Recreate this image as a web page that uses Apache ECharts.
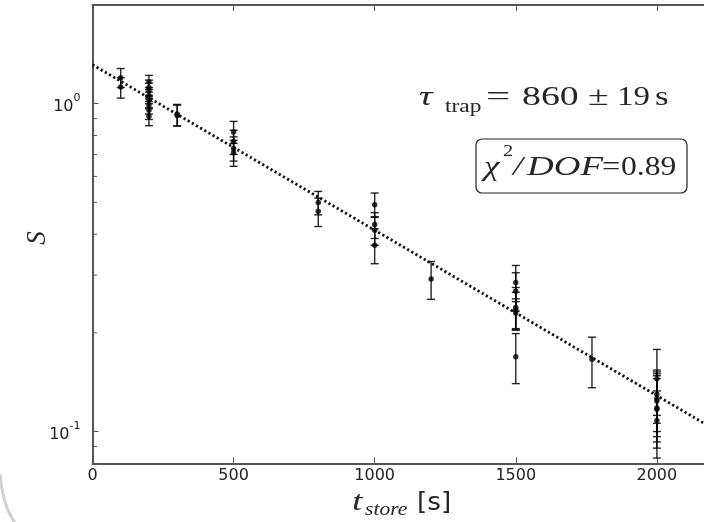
<!DOCTYPE html>
<html><head><meta charset="utf-8">
<script src="https://cdn.jsdelivr.net/npm/echarts@6/dist/echarts.min.js"></script>
<style>html,body{margin:0;padding:0;background:#fff}#c{width:704px;height:522px}</style>
</head><body><div id="c"></div>
<script>
// storage time (s)
const storeTimes = [100,100, 200,200,200,200,200,200,200,200, 300,300, 500,500,500,500, 800,800,
  1000,1000,1000,1000, 1200, 1500,1500,1500,1500,1500,1500, 1770, 2000,2000,2000,2000,2000,2000,2000];
// normalized signal S
const signal = [1.20,1.124, 1.165,1.12,1.095,1.06,1.025,0.99,0.955,0.915, 0.93,0.92, 0.82,0.765,0.73,0.71, 0.50,0.47,
  0.492,0.428,0.411,0.370, 0.292, 0.285,0.268,0.239,0.235,0.230,0.169, 0.166, 0.145,0.130,0.126,0.124,0.118,0.117,0.108];
// lower end of error bar
const errLow = [1.12,1.04, 1.105,1.06,1.035,1.0,0.965,0.93,0.895,0.857, 0.855,0.855, 0.757,0.70,0.668,0.644, 0.458,0.422,
  0.450,0.388,0.370,0.325, 0.253, 0.249,0.233,0.204,0.204,0.206,0.140, 0.136, 0.112,0.106,0.100,0.0965,0.093,0.089,0.083];
// upper end of error bar
const errHigh = [1.28,1.20, 1.22,1.18,1.155,1.12,1.085,1.05,1.015,0.973, 0.995,0.99, 0.883,0.83,0.792,0.773, 0.540,0.515,
  0.534,0.465,0.452,0.415, 0.330, 0.321,0.305,0.275,0.266,0.254,0.199, 0.194, 0.178,0.154,0.152,0.150,0.148,0.145,0.133];
// exponential fit (tau = 860 s), endpoints
const fitTimes = [0, 2200];
const fitValues = [1.315, 0.102];
const xTickValues = [0, 500, 1000, 1500, 2000];
const yMinorTicks = [0.09, 0.2, 0.3, 0.4, 0.5, 0.6, 0.7, 0.8, 0.9];

const points = storeTimes.map((t, i) => [t, signal[i], errLow[i], errHigh[i]]);
const fitData = fitTimes.map((t, i) => [t, fitValues[i]]);

const chart = echarts.init(document.getElementById('c'), null, {renderer: 'canvas'});
const axisGray = '#555';
const serif = '"Liberation Serif", "DejaVu Serif", serif';
const sans = '"DejaVu Sans", sans-serif';
const ink = '#262626';

function txt(x, y, text, font, sx) {
  return {type: 'text', x: x, y: y, scaleX: sx || 1, style: {text: text, font: font, fill: ink, verticalAlign: 'middle'}};
}

chart.setOption({
  animation: false,
  backgroundColor: '#fff',
  grid: {left: 92.5, top: 5, right: 0, bottom: 58.7, containLabel: false},
  xAxis: [{
    type: 'value', min: 0, max: 2167, interval: 500, position: 'bottom',
    axisLine: {show: true, lineStyle: {color: axisGray, width: 2}},
    axisTick: {show: true, inside: true, length: 6, lineStyle: {color: axisGray, width: 1}},
    axisLabel: {show: true, margin: 5, color: '#222', fontSize: 16, fontFamily: sans, showMaxLabel: false,
      formatter: v => xTickValues.indexOf(v) >= 0 ? String(v) : ''},
    splitLine: {show: false}
  }, {
    type: 'value', min: 0, max: 2167, interval: 500, position: 'top',
    axisLine: {show: true, lineStyle: {color: axisGray, width: 2}},
    axisTick: {show: true, inside: true, length: 6, lineStyle: {color: axisGray, width: 1}},
    axisLabel: {show: false}, splitLine: {show: false}
  }],
  yAxis: [{
    type: 'log', logBase: 10, min: 0.08, max: 2.0,
    axisLine: {show: true, lineStyle: {color: axisGray, width: 2}},
    axisTick: {show: true, inside: true, length: 6, lineStyle: {color: axisGray, width: 1}},
    axisLabel: {
      show: true, margin: 12, showMinLabel: false, showMaxLabel: false,
      formatter: v => {
        const e = Math.log10(v);
        if (Math.abs(e - Math.round(e)) > 1e-6) return '';
        return '{b|10}{s|' + Math.round(e) + '}';
      },
      rich: {
        b: {fontSize: 16, fontFamily: sans, color: '#222', lineHeight: 22, verticalAlign: 'bottom'},
        s: {fontSize: 11, fontFamily: sans, color: '#222', lineHeight: 11, verticalAlign: 'top'}
      }
    },
    splitLine: {show: false}
  }],
  series: [
    {
      type: 'line', data: fitData, showSymbol: false, symbol: 'none', z: 3,
      lineStyle: {color: '#111', width: 2.8, type: [2.2, 2.6]}
    },
    {
      type: 'custom', data: points, z: 4, silent: true,
      encode: {x: 0, y: 1},
      renderItem: (params, api) => {
        const t = api.value(0);
        const a = api.coord([t, api.value(3)]);
        const b = api.coord([t, api.value(2)]);
        const w = 4;
        const st = {stroke: 'rgba(0,0,0,0.85)', lineWidth: 1.4};
        return {type: 'group', children: [
          {type: 'line', shape: {x1: a[0], y1: a[1], x2: b[0], y2: b[1]}, style: st},
          {type: 'line', shape: {x1: a[0] - w, y1: a[1], x2: a[0] + w, y2: a[1]}, style: st},
          {type: 'line', shape: {x1: b[0] - w, y1: b[1], x2: b[0] + w, y2: b[1]}, style: st}
        ]};
      }
    },
    {
      type: 'scatter', data: points.map(p => [p[0], p[1]]), symbol: 'circle', symbolSize: 5.5, z: 5,
      itemStyle: {color: '#000'}
    },
    {
      type: 'custom', data: yMinorTicks.map(v => [0, v]), z: 6, silent: true, clip: false,
      encode: {x: 0, y: 1},
      renderItem: (params, api) => {
        const p = api.coord([0, api.value(1)]);
        return {type: 'line', shape: {x1: p[0], y1: p[1], x2: p[0] + 4.5, y2: p[1]},
          style: {stroke: axisGray, lineWidth: 1}};
      }
    }
  ],
  graphic: [
    // tau annotation
    txt(419, 98, 'τ', 'italic 27px ' + serif, 1.4),
    txt(445, 107, 'trap', '18px ' + serif, 1.3),
    txt(486, 98, '=', '27px ' + serif, 1.6),
    txt(522, 98, '860', '27px ' + serif, 1.4),
    txt(588, 98, '±', '27px ' + serif, 1.4),
    txt(617, 98, '19', '27px ' + serif, 1.22),
    txt(655, 98, 's', '27px ' + serif, 1.3),
    // chi2 box
    {type: 'rect', shape: {x: 476, y: 139, width: 211, height: 54, r: 6}, style: {fill: '#fff', stroke: '#222', lineWidth: 1.2}},
    txt(484, 168, 'χ', 'italic 27px ' + serif, 1.3),
    txt(503, 152, '2', '17px ' + serif, 1.2),
    txt(513, 168, '/', 'italic 27px ' + serif, 1.3),
    txt(527, 168, 'DOF', 'italic 27px ' + serif, 1.37),
    txt(602, 168, '=', '27px ' + serif, 1.2),
    txt(621, 168, '0.89', '27px ' + serif, 1.17),
    // axis titles
    txt(352, 503, 't', 'italic 27px ' + serif, 1.4),
    txt(365, 510, 'store', 'italic 18px ' + serif, 1.2),
    txt(417, 503, '[s]', '25px ' + sans, 1.05),
    {type: 'text', x: 38, y: 238, rotation: Math.PI / 2, style: {text: 'S', font: 'italic 27px ' + serif, fill: ink, align: 'center', verticalAlign: 'middle'}},
    // shadow arc of the frame at the lower left
    {type: 'bezierCurve', shape: {x1: 0, y1: 474, x2: 16, y2: 524, cpx1: 3, cpy1: 508}, style: {stroke: 'rgba(150,150,150,0.45)', lineWidth: 3, fill: null}}
  ]
});
</script></body></html>
